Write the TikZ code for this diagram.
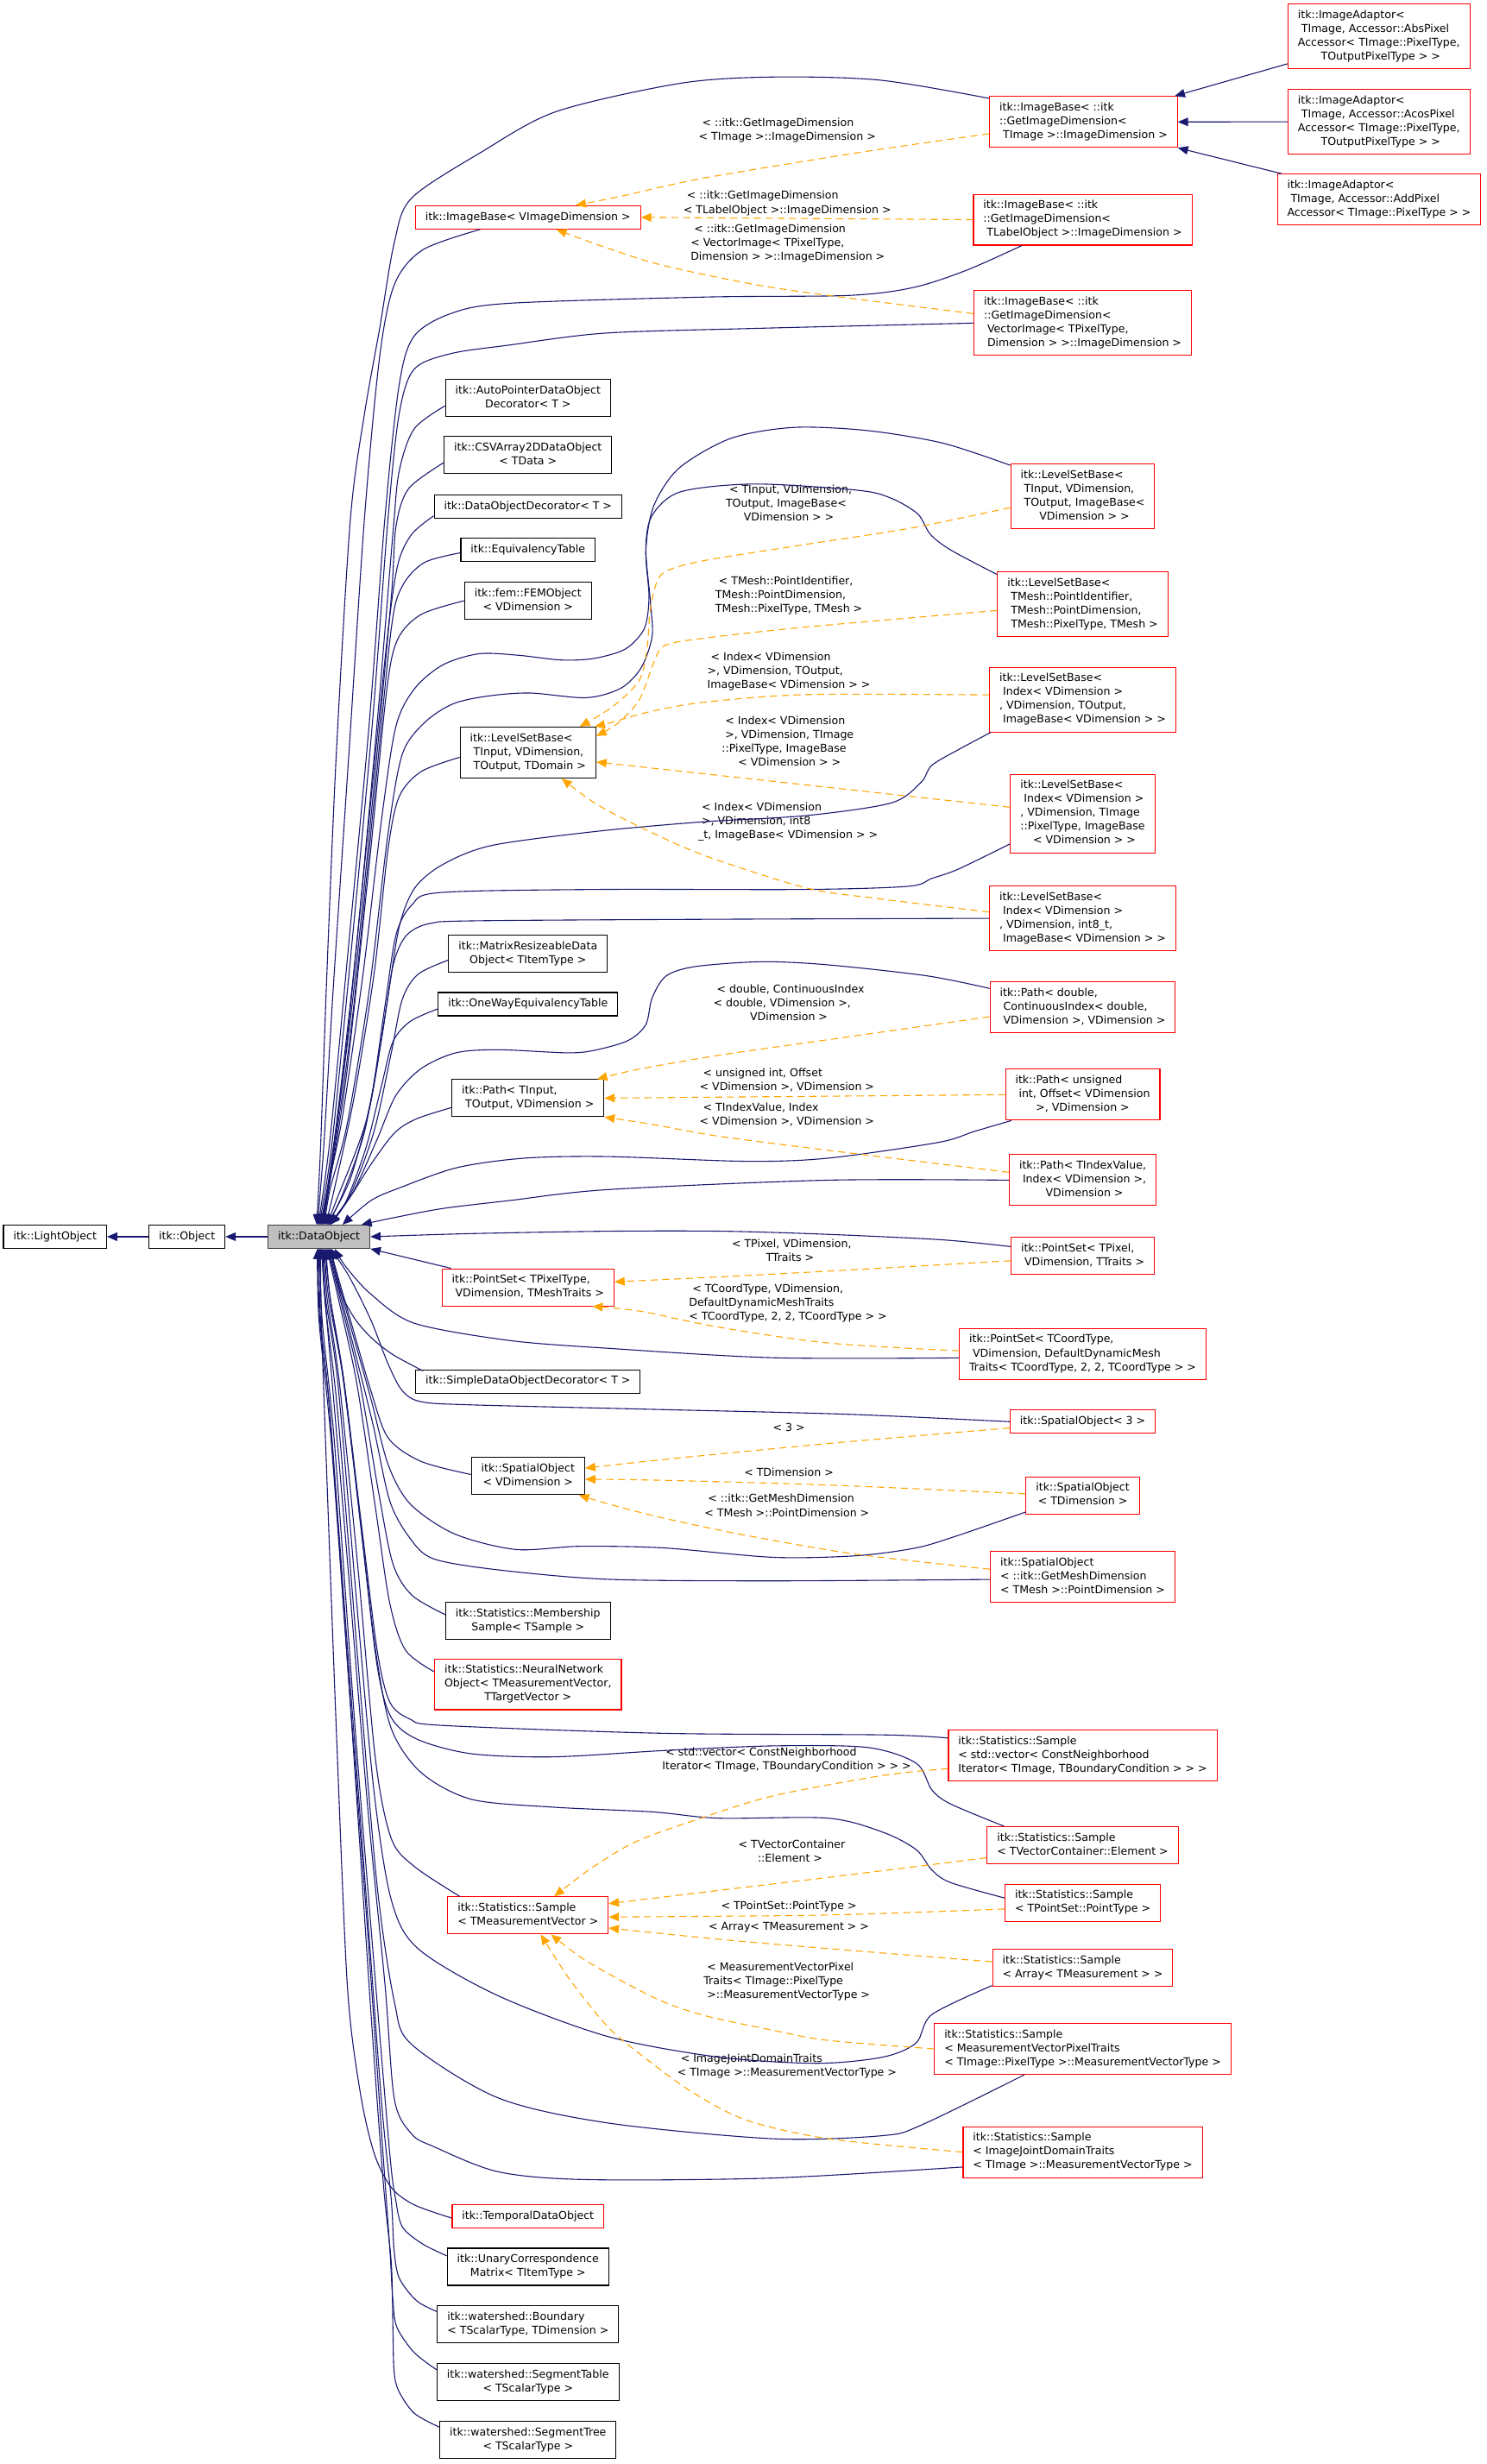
\documentclass[tikz,border=0pt]{standalone}
\usepackage{fontspec}
\setmainfont{DejaVu Sans}
\usetikzlibrary{arrows.meta,calc}
\definecolor{navyedge}{HTML}{191970}
\definecolor{orangeedge}{HTML}{FFA500}
\definecolor{dogray}{HTML}{BFBFBF}
\definecolor{doborder}{HTML}{404040}
\newcommand{\ml}[2]{\begin{tabular}{@{}l@{}}#1\\\multicolumn{1}{@{}c@{}}{#2}\end{tabular}}
\newcommand{\sln}[1]{\begin{tabular}{@{}c@{}}#1\end{tabular}}
\tikzset{
 cls/.style={draw, line width=0.6pt, inner xsep=6.3pt, inner ysep=3pt, font=\fontsize{6.9}{8.8}\selectfont},
 blk/.style={cls, draw=black},
 rd/.style={cls, draw=red},
 dobj/.style={cls, draw=doborder, fill=dogray},
 lbl/.style={inner sep=0pt, font=\fontsize{6.9}{8.8}\selectfont},
 inh/.style={draw=navyedge, line width=0.6pt, -{Triangle[length=6.5pt,width=5.4pt]}},
 tpl/.style={draw=orangeedge, line width=0.6pt, dash pattern=on 4.5pt off 3pt, -{Triangle[length=6.5pt,width=5.4pt]}},
 sm/.style={smooth, tension=0.5}
}
\begin{document}
\begin{tikzpicture}[x=1pt,y=-1pt]
\fill[white] (0,0) rectangle (946,1568);
\useasboundingbox (0,0) rectangle (946,1568);
% ---------- nodes ----------
\node[blk] (LO) at (35,787) {\sln{itk::LightObject}};
\node[blk] (Obj) at (119,787) {\sln{itk::Object}};
\node[dobj] (DO) at (203,787) {\sln{itk::DataObject}};

\node[rd] (IAa) at (877.5,23.3) {\ml{itk::ImageAdaptor<\\\ TImage, Accessor::AbsPixel\\Accessor< TImage::PixelType,}{\ TOutputPixelType > >}};
\node[rd] (IAc) at (877.5,77.5) {\ml{itk::ImageAdaptor<\\\ TImage, Accessor::AcosPixel\\Accessor< TImage::PixelType,}{\ TOutputPixelType > >}};
\node[rd] (IAd) at (877.6,127) {\ml{itk::ImageAdaptor<\\\ TImage, Accessor::AddPixel}{Accessor< TImage::PixelType > >}};

\node[rd] (IBt) at (689.5,77.6) {\ml{itk::ImageBase< ::itk\\::GetImageDimension<}{\ TImage >::ImageDimension >}};
\node[rd] (IBl) at (689,139.8) {\ml{itk::ImageBase< ::itk\\::GetImageDimension<}{\ TLabelObject >::ImageDimension >}};
\node[rd] (IBvec) at (689,205.6) {\ml{itk::ImageBase< ::itk\\::GetImageDimension<\\\ VectorImage< TPixelType,}{\ Dimension > >::ImageDimension >}};
\node[rd] (IBv) at (336,138.3) {\sln{itk::ImageBase< VImageDimension >}};

\node[blk] (AP) at (336,253.3) {\ml{itk::AutoPointerDataObject}{Decorator< T >}};
\node[blk] (CSV) at (336,289.4) {\ml{itk::CSVArray2DDataObject}{< TData >}};
\node[blk] (DOD) at (336,322.3) {\sln{itk::DataObjectDecorator< T >}};
\node[blk] (ET) at (336,349.8) {\sln{itk::EquivalencyTable}};
\node[blk] (FEM) at (336,382.3) {\ml{itk::fem::FEMObject}{< VDimension >}};
\node[blk] (LSBm) at (336,478.9) {\ml{itk::LevelSetBase<\\\ TInput, VDimension,}{\ TOutput, TDomain >}};
\node[blk] (MR) at (336,607) {\ml{itk::MatrixResizeableData}{Object< TItemType >}};
\node[blk] (OW) at (336,639) {\sln{itk::OneWayEquivalencyTable}};
\node[blk] (Pt) at (336,698.8) {\ml{itk::Path< TInput,}{\ TOutput, VDimension >}};
\node[rd] (PSm) at (336,819.2) {\ml{itk::PointSet< TPixelType,}{\ VDimension, TMeshTraits >}};
\node[blk] (SDD) at (336,879.1) {\sln{itk::SimpleDataObjectDecorator< T >}};
\node[blk] (SOm) at (336,939.3) {\ml{itk::SpatialObject}{< VDimension >}};
\node[blk] (MS) at (336,1031.5) {\ml{itk::Statistics::Membership}{Sample< TSample >}};
\node[rd] (NN) at (336,1071.8) {\ml{itk::Statistics::NeuralNetwork\\Object< TMeasurementVector,}{TTargetVector >}};
\node[rd] (Sm) at (336,1218.9) {\ml{itk::Statistics::Sample}{< TMeasurementVector >}};
\node[rd] (TD) at (336,1410.5) {\sln{itk::TemporalDataObject}};
\node[blk] (UC) at (336,1442.5) {\ml{itk::UnaryCorrespondence}{Matrix< TItemType >}};
\node[blk] (WB) at (336,1479) {\ml{itk::watershed::Boundary}{< TScalarType, TDimension >}};
\node[blk] (WT) at (336,1516) {\ml{itk::watershed::SegmentTable}{< TScalarType >}};
\node[blk] (WS) at (336,1552.5) {\ml{itk::watershed::SegmentTree}{< TScalarType >}};

\node[rd] (LSBa) at (689,316) {\ml{itk::LevelSetBase<\\\ TInput, VDimension,\\\ TOutput, ImageBase<}{\ VDimension > >}};
\node[rd] (LSBb) at (689,384.5) {\ml{itk::LevelSetBase<\\\ TMesh::PointIdentifier,\\\ TMesh::PointDimension,}{\ TMesh::PixelType, TMesh >}};
\node[rd] (LSBc) at (689,445.2) {\ml{itk::LevelSetBase<\\\ Index< VDimension >\\, VDimension, TOutput,}{\ ImageBase< VDimension > >}};
\node[rd] (LSBd) at (689,517.7) {\ml{itk::LevelSetBase<\\\ Index< VDimension >\\, VDimension, TImage\\::PixelType, ImageBase}{\ < VDimension > >}};
\node[rd] (LSBe) at (689,584.4) {\ml{itk::LevelSetBase<\\\ Index< VDimension >\\, VDimension, int8\_t,}{\ ImageBase< VDimension > >}};
\node[rd] (Pd) at (689,641) {\ml{itk::Path< double,\\\ ContinuousIndex< double,}{\ VDimension >, VDimension >}};
\node[rd] (Pu) at (689,696.6) {\ml{itk::Path< unsigned\\\ int, Offset< VDimension}{>, VDimension >}};
\node[rd] (Pi) at (689,751) {\ml{itk::Path< TIndexValue,\\\ Index< VDimension >,}{\ VDimension >}};
\node[rd] (PSa) at (689,799.3) {\ml{itk::PointSet< TPixel,}{\ VDimension, TTraits >}};
\node[rd] (PSb) at (689,861.6) {\ml{itk::PointSet< TCoordType,\\\ VDimension, DefaultDynamicMesh}{Traits< TCoordType, 2, 2, TCoordType > >}};
\node[rd] (SO3) at (689,904.7) {\sln{itk::SpatialObject< 3 >}};
\node[rd] (SOb) at (689,951.6) {\ml{itk::SpatialObject}{< TDimension >}};
\node[rd] (SOc) at (689,1003.6) {\ml{itk::SpatialObject\\< ::itk::GetMeshDimension}{< TMesh >::PointDimension >}};
\node[rd] (Sv) at (689,1117) {\ml{itk::Statistics::Sample\\< std::vector< ConstNeighborhood}{Iterator< TImage, TBoundaryCondition > > >}};
\node[rd] (Sc) at (689,1174.2) {\ml{itk::Statistics::Sample}{< TVectorContainer::Element >}};
\node[rd] (Sp) at (689,1210.8) {\ml{itk::Statistics::Sample}{< TPointSet::PointType >}};
\node[rd] (Sa) at (689,1252.4) {\ml{itk::Statistics::Sample}{< Array< TMeasurement > >}};
\node[rd] (Sb) at (689,1303.8) {\ml{itk::Statistics::Sample\\< MeasurementVectorPixelTraits}{< TImage::PixelType >::MeasurementVectorType >}};
\node[rd] (Sj) at (689,1369.5) {\ml{itk::Statistics::Sample\\< ImageJointDomainTraits}{< TImage >::MeasurementVectorType >}};

% ---------- edge labels ----------
\node[lbl] (l1) at (501,83) {\ml{\ < ::itk::GetImageDimension}{< TImage >::ImageDimension >}};
\node[lbl] (l2) at (501,129.5) {\ml{\ < ::itk::GetImageDimension}{< TLabelObject >::ImageDimension >}};
\node[lbl] (l3) at (501.3,155.2) {\ml{\ < ::itk::GetImageDimension\\< VectorImage< TPixelType,}{Dimension > >::ImageDimension >}};
\node[lbl] (l4) at (502,321) {\ml{\ < TInput, VDimension,\\TOutput, ImageBase<}{VDimension > >}};
\node[lbl] (l5) at (502,379.2) {\ml{\ < TMesh::PointIdentifier,\\TMesh::PointDimension,}{TMesh::PixelType, TMesh >}};
\node[lbl] (l6) at (502,427.5) {\ml{\ < Index< VDimension\\>, VDimension, TOutput,}{ImageBase< VDimension > >}};
\node[lbl] (l7) at (501.3,472.7) {\ml{\ < Index< VDimension\\\ >, VDimension, TImage\\::PixelType, ImageBase}{\ < VDimension > >}};
\node[lbl] (l8) at (501.5,523.2) {\ml{\ < Index< VDimension\\\ >, VDimension, int8}{\_t, ImageBase< VDimension > >}};
\node[lbl] (l9) at (502,639) {\ml{\ < double, ContinuousIndex\\< double, VDimension >,}{VDimension >}};
\node[lbl] (l10) at (500.8,687.5) {\ml{\ < unsigned int, Offset}{< VDimension >, VDimension >}};
\node[lbl] (l11) at (500.8,709.6) {\ml{\ < TIndexValue, Index}{< VDimension >, VDimension >}};
\node[lbl] (l12) at (502.7,796.3) {\ml{\ < TPixel, VDimension,}{TTraits >}};
\node[lbl] (l13) at (501.4,829.5) {\ml{\ < TCoordType, VDimension,\\DefaultDynamicMeshTraits}{< TCoordType, 2, 2, TCoordType > >}};
\node[lbl] (l14) at (502,909.2) {\sln{< 3 >}};
\node[lbl] (l15) at (502,937.5) {\sln{< TDimension >}};
\node[lbl] (l16) at (500.8,958.8) {\ml{\ < ::itk::GetMeshDimension}{< TMesh >::PointDimension >}};
\node[lbl] (l17) at (500.6,1119.8) {\ml{\ < std::vector< ConstNeighborhood}{Iterator< TImage, TBoundaryCondition > > >}};
\node[lbl] (l18) at (502.8,1179) {\ml{\ < TVectorContainer}{::Element >}};
\node[lbl] (l19) at (502,1213.6) {\sln{< TPointSet::PointType >}};
\node[lbl] (l20) at (502,1226.8) {\sln{< Array< TMeasurement > >}};
\node[lbl] (l21) at (500.7,1261) {\ml{\ < MeasurementVectorPixel\\Traits< TImage::PixelType}{\ >::MeasurementVectorType >}};
\node[lbl] (l22) at (500.8,1314.8) {\ml{\ < ImageJointDomainTraits}{< TImage >::MeasurementVectorType >}};

% ---------- inheritance edges ----------
\draw[inh] (Obj.west) -- (LO.east);
\draw[inh] (DO.west) -- (Obj.east);
\draw[inh] ($(IAa.south west)+(0,-3.6)$) -- ($(IBt.north east)+(-2,0)$);
\draw[inh] (IAc.west) -- (IBt.east);
\draw[inh] ($(IAd.north west)+(3,0)$) -- (IBt.south east);

% upper group
\draw[inh] plot[sm] coordinates {($(IBt.north west)+(0,1.5)$) (560,51) (492,49) (433,53) (354,71) (306,97) (262,126) (251,154) (241.6,209) (232,263) (223,330) (214,480) (208,620) (204,730) ([xshift=-1.5pt]DO.north)};
\draw[inh] plot[sm] coordinates {($(IBv.south west)+(41.5,0)$) (269,159) (251,181) (241.6,227) (232,329) (222,480) (212,630) (206,730) ([xshift=-1pt]DO.north)};
\draw[inh] plot[sm] coordinates {($(IBl.south west)+(31,0)$) (615,172) (581,183) (540,188) (450,189) (324,193) (287,199.5) (263.5,214) (254,245) (245,329) (235,460) (222,600) (210,725) ([xshift=-0.5pt]DO.north)};
\draw[inh] plot[sm] coordinates {(IBvec.west) (480,209) (385,212) (324,219.6) (287,225) (263.5,235) (254,263.5) (247,329) (237,460) (224,600) (211,730) (DO.north)};
\draw[inh] plot[sm] coordinates {($(AP.west)+(0,5)$) (263.5,273) (254,300) (250,340) (240,460) (226,610) (211,740) ([xshift=0.5pt]DO.north)};
\draw[inh] plot[sm] coordinates {($(CSV.west)+(0,5)$) (260,311) (252,335) (249,380) (238,500) (224,640) (210,745) ([xshift=1pt]DO.north)};
\draw[inh] plot[sm] coordinates {($(DOD.west)+(0,6)$) (262,340) (253,360) (246,410) (234,530) (220,670) (210,748) ([xshift=1.5pt]DO.north)};
\draw[inh] plot[sm] coordinates {($(ET.west)+(0,2)$) (270,358) (256,373) (249,400) (238,510) (224,650) (210,750) ([xshift=2pt]DO.north)};
\draw[inh] plot[sm] coordinates {(FEM.west) (268,391) (253,407) (246,440) (235,550) (221,680) (210,752) ([xshift=2.5pt]DO.north)};
\draw[inh] plot[sm] coordinates {($(LSBa.north west)+(0,1)$) (600,282) (552,274) (505,272) (465,279) (432,298) (416,322) (411,350) (413,380) (410,400) (398,413) (378,419) (357,420) (330,417) (305,416) (282,423) (264,438) (252,462) (243,520) (231,620) (218,710) (209,755) ([xshift=3pt]DO.north)};
\draw[inh] plot[sm] coordinates {($(LSBb.north west)+(0,2)$) (605,350) (592,340) (584,327) (567,317) (546,312) (480,308) (433,313) (415,328) (411,349) (414,384) (415,405) (408,425) (395,438) (373,444) (337,441) (310,443) (288,448) (270,460) (256,480) (247,530) (235,630) (221,715) (210,757) ([xshift=3.5pt]DO.north)};
\draw[inh] plot[sm] coordinates {($(LSBm.west)+(0,3)$) (268,491) (254,507) (247,540) (238,620) (225,700) (212,760) ([xshift=4pt]DO.north)};
\draw[inh] plot[sm] coordinates {($(LSBc.south west)+(1,0)$) (610,477) (593,487) (586,498) (567,511) (513,519) (447,523) (380,529) (313,538) (282,550) (264,565) (254,590) (246,640) (234,710) (214,764) ([xshift=4.5pt]DO.north)};
\draw[inh] plot[sm] coordinates {($(LSBd.south west)+(0,-6)$) (610,553) (593,559) (578,564) (513,566) (380,566) (280,568) (262,576) (252,595) (245,640) (236,700) (223,750) ([xshift=5pt]DO.north)};
\draw[inh] plot[sm] coordinates {(LSBe.west) (450,585) (300,586) (272,588) (258,596) (250,615) (243,660) (232,720) (218,760) ([xshift=5.5pt]DO.north)};
\draw[inh] plot[sm] coordinates {($(MR.west)+(0,4)$) (266,620) (256,636) (249,670) (238,720) (223,760) ([xshift=6pt]DO.north)};
\draw[inh] plot[sm] coordinates {($(OW.west)+(0,3)$) (261,650) (250,663) (243,690) (233,730) (220,765) ([xshift=6.5pt]DO.north)};
\draw[inh] plot[sm] coordinates {($(Pd.west)+(0,-12)$) (590,621) (527,614) (485,612) (443,615) (424,621) (415,635) (411,652) (400,662) (380,668) (362,670) (317,668) (290,670) (268,680) (252,697) (240,725) (225,758) ([xshift=7pt]DO.north)};
\draw[inh] plot[sm] coordinates {($(Pt.west)+(0,6)$) (265,712) (251,721) (236,741) (224,760) ([xshift=7.5pt]DO.north)};
\draw[inh] plot[sm] coordinates {($(Pu.south west)+(4,0)$) (620,720) (597,727) (527,737) (475,739) (387,736) (334,737) (291,743) (254,756) (236,764) ([xshift=15pt]DO.north)};
\draw[inh] plot[sm] coordinates {(Pi.west) (527,751) (387,757) (324,764) (282,769) (250,775) ([xshift=27pt]DO.north)};
\draw[inh] plot[sm] coordinates {($(PSa.west)+(0,-6)$) (600,789) (527,785.5) (460,783.5) (387,783.5) (300,785) (DO.east)};

% lower group
\draw[inh] ($(PSm.north west)+(6,0)$) -- (DO.south east);
\draw[inh] plot[sm] coordinates {($(PSb.west)+(0,2.5)$) (492,864) (387,858) (324,853) (263.5,842) (236,823.5) (220,806) ([xshift=10pt]DO.south)};
\draw[inh] plot[sm] coordinates {($(SDD.north west)+(5,1)$) (250,862) (236,851) (225,838) (216,820) ([xshift=8pt]DO.south)};
\draw[inh] plot[sm] coordinates {(SO3.west) (540,900) (422,897) (300,894) (268,892) (256,885) (247,868) (236,840) (222,812) ([xshift=7.5pt]DO.south)};
\draw[inh] plot[sm] coordinates {($(SOm.west)+(0,-1)$) (268,930) (247,915) (236,885) (223,840) ([xshift=7pt]DO.south)};
\draw[inh] plot[sm] coordinates {($(SOb.south west)+(0,-1.5)$) (610,977) (583,985) (545,990) (492,991) (422,985) (369,984) (328,986) (289,976) (261,957) (247,932) (236,890) (222,840) ([xshift=6.5pt]DO.south)};
\draw[inh] plot[sm] coordinates {($(SOc.west)+(0,1.5)$) (492,1006) (387,1005) (317,999) (276,992) (261,979) (248,955) (237,905) (222,845) ([xshift=6pt]DO.south)};
\draw[inh] plot[sm] coordinates {($(MS.west)+(0,-4)$) (262,1015) (250,995) (241,950) (229,880) (216,825) ([xshift=5.5pt]DO.south)};
\draw[inh] plot[sm] coordinates {($(NN.west)+(0,-8)$) (258,1050) (248,1020) (239,960) (227,880) (215,825) ([xshift=5pt]DO.south)};
\draw[inh] plot[sm] coordinates {($(Sv.west)+(0,-11)$) (562,1104) (422,1103) (282,1098) (261,1094) (248,1083) (240,1050) (230,970) (219,880) (210,825) ([xshift=4.5pt]DO.south)};
\draw[inh] plot[sm] coordinates {($(Sc.north west)+(11,0)$) (605,1148) (593,1139) (583,1122) (552,1112) (492,1111) (422,1114) (352,1118) (300,1116) (266,1107) (249,1093) (240,1060) (230,975) (219,880) (210,825) ([xshift=4pt]DO.south)};
\draw[inh] plot[sm] coordinates {($(Sp.west)+(0,-3)$) (605,1198) (593,1190) (583,1177) (562,1166) (527,1157) (457,1157) (415,1153) (352,1150) (300,1145) (268,1128) (249,1100) (239,1050) (229,965) (218,875) (209,825) ([xshift=3.5pt]DO.south)};
\draw[inh] plot[sm] coordinates {($(Sm.north west)+(8,0)$) (264,1188) (249,1170) (239,1120) (228,1000) (216,880) (208,825) ([xshift=3pt]DO.south)};
\draw[inh] plot[sm] coordinates {($(Sa.south west)+(0,-1)$) (593,1282) (583,1300) (562,1309) (520,1313) (457,1309) (387,1296) (317,1270) (266,1240) (249,1209) (238,1140) (227,1020) (215,880) (207,825) ([xshift=2.5pt]DO.south)};
\draw[inh] plot[sm] coordinates {($(Sb.south west)+(57.5,0)$) (587,1352) (562,1359) (492,1361) (387,1351) (317,1335) (262,1301) (251,1274) (240,1200) (228,1060) (215,900) (207,830) ([xshift=2pt]DO.south)};
\draw[inh] plot[sm] coordinates {($(Sj.west)+(0,9.5)$) (492,1386) (373,1387) (317,1382) (276,1366) (262,1358) (251,1336) (245,1263) (234,1150) (220,980) (208,840) ([xshift=1.5pt]DO.south)};
\draw[inh] plot[sm] coordinates {($(TD.west)+(0,1)$) (263.5,1403) (249,1392) (238,1370) (229,1330) (221,1263) (214,1100) (208,940) (204.5,840) ([xshift=1pt]DO.south)};
\draw[inh] plot[sm] coordinates {($(UC.west)+(0,-7)$) (269,1428) (256,1417) (251.5,1398) (248,1370) (238,1250) (226,1100) (213,920) (205,840) ([xshift=0.5pt]DO.south)};
\draw[inh] plot[sm] coordinates {($(WB.west)+(0,-8)$) (265,1464) (254,1449.5) (250.7,1431) (249,1400) (243,1340) (234,1220) (222,1060) (210,900) (204,840) (DO.south)};
\draw[inh] plot[sm] coordinates {($(WT.west)+(0,-8)$) (263.5,1497) (252.6,1481) (250,1464) (248,1430) (243,1360) (234,1230) (222,1070) (210,900) (203.5,840) ([xshift=-0.5pt]DO.south)};
\draw[inh] plot[sm] coordinates {($(WS.west)+(0,-8)$) (263.5,1535.6) (253.5,1521) (250.7,1508) (250,1480) (249,1440) (244,1390) (236,1280) (224,1100) (211,920) (203,840) ([xshift=-1pt]DO.south)};

% ---------- template instantiation edges ----------
\draw[tpl] plot[sm] coordinates {($(IBt.west)+(0,7.5)$) (547,97) (447,113.5) (397,124.5) ($(IBv.north east)+(-41.5,0)$)};
\draw[tpl] (IBl.west) -- (IBv.east);
\draw[tpl] plot[sm] coordinates {($(IBvec.west)+(0,-6)$) (530,188.4) (480,181) (420,168.4) (380,155.6) ($(IBv.south west)+(90,0)$)};
\draw[tpl] plot[sm] coordinates {($(LSBa.west)+(0,7)$) (580,336) (513,346.4) (446.7,357) (423,364) (416.7,374) (413.5,391) (411.8,412) (407,432.6) (390,449.6) ($(LSBm.north east)+(-10.6,0)$)};
\draw[tpl] plot[sm] coordinates {($(LSBb.west)+(0,4)$) (513,399) (446.7,406.3) (423.3,410.7) (416.7,420) (407,445) (393.5,460) ($(LSBm.east)+(0,-10.5)$)};
\draw[tpl] plot[sm] coordinates {($(LSBc.west)+(0,-3)$) (513,442) (447,447) (413,453) (390,459.5) ($(LSBm.north east)+(-1,0)$)};
\draw[tpl] ($(LSBd.west)+(0,-4)$) -- ($(LSBm.east)+(0,6)$);
\draw[tpl] plot[sm] coordinates {($(LSBe.west)+(0,-4)$) (560,572) (513,565) (450,545) (413,529) (380,512) ($(LSBm.south east)+(-22,0)$)};
\draw[tpl] plot[sm] coordinates {($(Pd.west)+(0,6)$) (527,661.6) (457,671.6) (404.6,680.8) ($(Pt.north east)+(-4.7,0)$)};
\draw[tpl] (Pu.west) -- (Pt.east);
\draw[tpl] plot[sm] coordinates {($(Pi.west)+(0,-5)$) (527,732) (457,723) (415,715.5) (Pt.south east)};
\draw[tpl] plot[sm] coordinates {($(PSa.west)+(0,3)$) (527,808.9) (457,812.6) ($(PSm.east)+(0,-3.5)$)};
\draw[tpl] plot[sm] coordinates {($(PSb.west)+(0,-2)$) (527,854.6) (457,844.5) (408,834.5) ($(PSm.south east)+(-14,0)$)};
\draw[tpl] plot[sm] coordinates {($(SO3.west)+(0,4)$) (527,918.6) (422,928.8) ($(SOm.east)+(0,-5)$)};
\draw[tpl] plot[sm] coordinates {($(SOb.west)+(0,-1)$) (527,945) (422,942) ($(SOm.east)+(0,2)$)};
\draw[tpl] plot[sm] coordinates {($(SOc.west)+(0,-5)$) (544.6,989) (474.6,977) (422,966) (387,957) ($(SOm.south east)+(-4,0)$)};
\draw[tpl] plot[sm] coordinates {($(Sv.west)+(0,8.5)$) (562,1129.8) (492,1142.8) (443,1158) (404.6,1172) (376.6,1188.6) ($(Sm.north west)+(68,0)$)};
\draw[tpl] plot[sm] coordinates {($(Sc.west)+(0,8)$) (527,1194.7) (457,1203) ($(Sm.east)+(0,-7.5)$)};
\draw[tpl] plot[sm] coordinates {($(Sp.west)+(0,4)$) (527,1218.6) ($(Sm.east)+(0,1)$)};
\draw[tpl] plot[sm] coordinates {($(Sa.west)+(0,-4)$) (527,1240) (457,1234) ($(Sm.east)+(0,8)$)};
\draw[tpl] plot[sm] coordinates {(Sb.west) (527,1298.4) (492,1292) (450,1283) (422,1273.8) (394,1259.7) (369.5,1245.5) ($(Sm.south west)+(66,0)$)};
\draw[tpl] plot[sm] coordinates {(Sj.west) (527,1361) (474.6,1349) (440,1331) (411.7,1310.5) (387,1290) (362.6,1259.7) ($(Sm.south west)+(59.5,0)$)};
\end{tikzpicture}
\end{document}
